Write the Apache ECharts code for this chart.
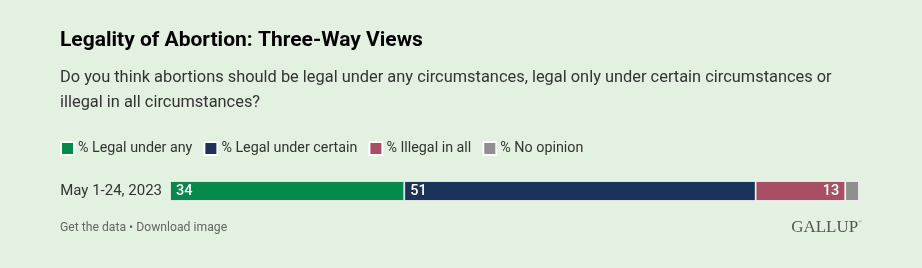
<!DOCTYPE html>
<html><head><meta charset="utf-8">
<script src="https://cdn.jsdelivr.net/npm/echarts@6/dist/echarts.min.js"></script>
<style>html,body{margin:0;padding:0;background:#e3f1e0;}#c{width:922px;height:268px;}</style>
</head><body><div id="c"></div>
<script>
const categories = ['May 1-24, 2023'];
const seriesNames = ['% Legal under any', '% Legal under certain', '% Illegal in all', '% No opinion'];
const legalAny = [34];
const legalCertain = [51];
const illegalAll = [13];
const noOpinion = [2];
const colors = ['#058a4b', '#1c3359', '#a84f64', '#8f8f8f'];
const F = 'Roboto, sans-serif';
const chart = echarts.init(document.getElementById('c'));
const values = [legalAny, legalCertain, illegalAll, noOpinion];
const labelPos = ['insideLeft', 'insideLeft', 'insideRight', 'inside'];
chart.setOption({
  backgroundColor: '#e3f1e0',
  animation: false,
  title: [
    {text: 'Legality of Abortion: Three-Way Views', left: 60, top: 30, padding: 0, textStyle: {fontFamily: F, fontSize: 21, fontWeight: 'bold', color: '#000'}},
    {text: 'Do you think abortions should be legal under any circumstances, legal only under certain circumstances or\nillegal in all circumstances?', left: 60, top: 65, padding: 0, textStyle: {fontFamily: F, fontSize: 16.4, fontWeight: 'normal', color: '#333', lineHeight: 25}},
    {text: 'Get the data • Download image', left: 60, top: 222, padding: 0, textStyle: {fontFamily: F, fontSize: 12.2, fontWeight: 'normal', color: '#666'}},
    {text: 'GALLUP{r|®}', right: 60, top: 219, padding: 0, textStyle: {fontFamily: '"Liberation Serif", "DejaVu Serif", serif', fontSize: 17, fontWeight: 'normal', color: '#555',
      rich: {r: {fontSize: 5, color: '#777', verticalAlign: 'top', padding: [0, 0, 10, 0]}}}}
  ],
  legend: {
    left: 60, top: 141, padding: 0, itemWidth: 13, itemHeight: 13, itemGap: 11, icon: 'rect',
    textStyle: {fontFamily: F, fontSize: 14.3, color: '#333', padding: [0, 0, 0, -1]},
    data: seriesNames
  },
  grid: {left: 170, right: 63, top: 181, height: 20},
  xAxis: {type: 'value', min: 0, max: 100, show: false},
  yAxis: {type: 'category', data: categories, axisLine: {show: false}, axisTick: {show: false},
    axisLabel: {fontFamily: F, fontSize: 15, color: '#333', margin: 8}},
  series: seriesNames.map((n, i) => ({
    name: n, type: 'bar', stack: 'total', data: values[i], barWidth: 20,
    itemStyle: {color: colors[i], borderColor: '#ffffff', borderWidth: 0.8},
    label: {show: i < 3, position: labelPos[i], color: '#fff', fontFamily: F, fontSize: 14.5, fontWeight: 500, distance: 6}
  }))
});
</script></body></html>
